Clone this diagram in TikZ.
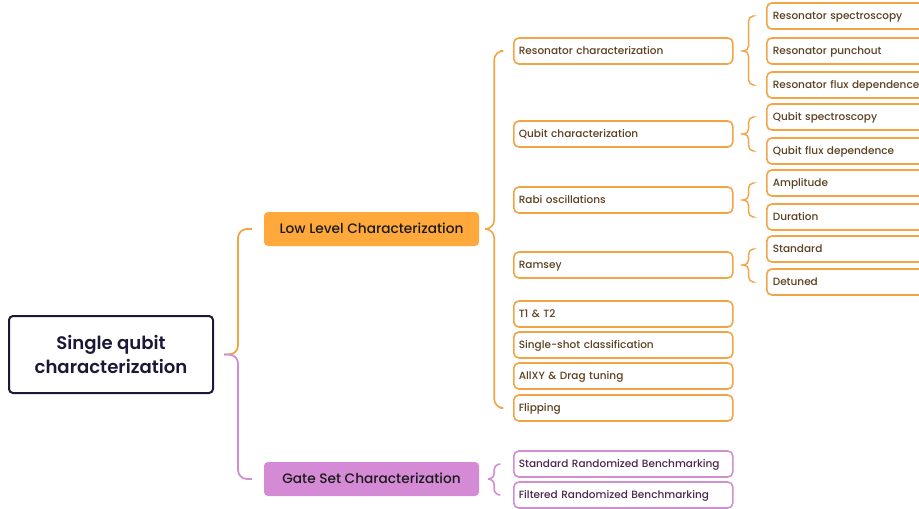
\documentclass[tikz,border=0pt]{standalone}
\usepackage{fontspec}
\setmainfont{Poppins}[UprightFont=* Medium, BoldFont=* SemiBold]
\usetikzlibrary{calc}
\definecolor{orfill}{HTML}{FFA83C}
\definecolor{orline}{HTML}{F3A545}
\definecolor{ortext}{HTML}{5B4021}
\definecolor{pkfill}{HTML}{D58AD6}
\definecolor{pkline}{HTML}{D08FD2}
\definecolor{pktext}{HTML}{4B2750}
\definecolor{rootline}{HTML}{1C1938}
\definecolor{dark}{HTML}{1A1A1A}
\tikzset{
  x=1pt, y=-1pt,
  rootbox/.style={draw=rootline, line width=2pt, rounded corners=4pt, minimum width=204pt, minimum height=77pt, align=center, font=\fontsize{18.1}{24.5}\selectfont\bfseries, text=rootline},
  midbox/.style={rounded corners=4pt, minimum width=215pt, minimum height=34pt, font=\fontsize{13.7}{15}\selectfont, text=dark, text height=9.6pt, text depth=0pt},
  lowbox/.style={midbox, fill=orfill},
  gatebox/.style={midbox, fill=pkfill},
  leafbox/.style={draw=#1, line width=1.6pt, rounded corners=5pt, anchor=west, minimum height=26pt, inner xsep=5pt, align=left, font=\fontsize{10.5}{12}\selectfont, text height=7.4pt, text depth=0pt},
  obox/.style={leafbox=orline, text=ortext, text width=209pt},
  pbox/.style={leafbox=pkline, text=pktext, text width=209pt},
  tbox/.style={leafbox=orline, text=ortext, text width=200pt, inner xsep=6pt},
  brace/.style={draw=#1, line width=1.8pt, rounded corners=9pt},
  sbrace/.style={draw=orline, line width=1.4pt, rounded corners=5pt},
}
\begin{document}
\begin{tikzpicture}
\clip (0,0) rectangle (919,509);
\fill[white] (0,0) rectangle (919,509);
% root
\node[rootbox] (root) at (111,354.5) {Single qubit\\characterization};
\node[lowbox] (low) at (371.5,229) {Low Level Characterization};
\node[gatebox] (gate) at (371.5,479) {Gate Set Characterization};
% level 2
\node[obox] (rc) at (513,51) {Resonator characterization};
\node[obox] (qc) at (513,134) {Qubit characterization};
\node[obox] (rabi) at (513,200) {Rabi oscillations};
\node[obox] (ram) at (513,265) {Ramsey};
\node[obox] (t12) at (513,314) {T1 \& T2};
\node[obox] (ss) at (513,345) {Single-shot classification};
\node[obox] (allxy) at (513,376) {AllXY \& Drag tuning};
\node[obox] (flip) at (513,408) {Flipping};
\node[pbox] (srb) at (513,464) {Standard Randomized Benchmarking};
\node[pbox] (frb) at (513,495) {Filtered Randomized Benchmarking};
% level 3
\node[tbox] (rs) at (766,16) {Resonator spectroscopy};
\node[tbox] (rp) at (766,51) {Resonator punchout};
\node[tbox] (rf) at (766,85) {Resonator flux dependence};
\node[tbox] (qs) at (766,117) {Qubit spectroscopy};
\node[tbox] (qf) at (766,151) {Qubit flux dependence};
\node[tbox] (amp) at (766,183) {Amplitude};
\node[tbox] (dur) at (766,217) {Duration};
\node[tbox] (std) at (766,249) {Standard};
\node[tbox] (det) at (766,282) {Detuned};
% root braces
\coordinate (rtip) at ($(root.east)+(10,0)$);
\coordinate (rv) at ($(root.east)+(24,0)$);
\draw[brace=orline] ($(low.west)+(-12,0)$) -| (rv) -- (rtip);
\draw[brace=pkline] ($(gate.west)+(-12,0)$) -| (rv) -- (rtip);
% level-2 braces
\coordinate (ltip) at ($(low.east)+(10,0)$);
\coordinate (lv) at ($(low.east)+(15,0)$);
\draw[brace=orline, line width=1.6pt] ($(rc.west)+(-13,0)$) -| (lv) -- (ltip);
\draw[brace=orline, line width=1.6pt] ($(flip.west)+(-13,0)$) -| (lv) -- (ltip);
\coordinate (gtip) at ($(gate.east)+(10,0)$);
\coordinate (gv) at ($(gate.east)+(15,0)$);
\draw[brace=pkline, line width=1.6pt, rounded corners=6pt] ($(srb.west)+(-13,0)$) -| (gv) -- (gtip);
\draw[brace=pkline, line width=1.6pt, rounded corners=6pt] ($(frb.west)+(-13,0)$) -| (gv) -- (gtip);
% level-3 braces
\foreach \p/\a/\b in {rc/rs/rf, qc/qs/qf, rabi/amp/dur, ram/std/det}{
  \coordinate (tip) at ($(\p.east)+(11,0)$);
  \coordinate (v) at ($(\p.east)+(15,0)$);
  \draw[sbrace] ($(\a.west)+(-14,0)$) -| (v) -- (tip);
  \draw[sbrace] ($(\b.west)+(-14,0)$) -| (v) -- (tip);
}
\end{tikzpicture}
\end{document}
